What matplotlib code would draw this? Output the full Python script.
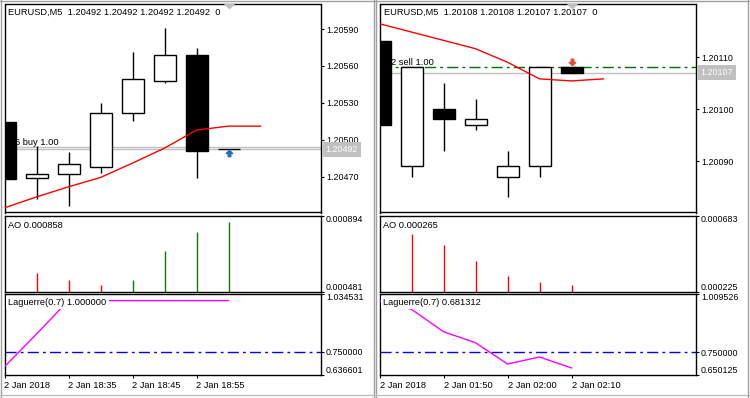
import matplotlib
matplotlib.use("Agg")
import matplotlib.pyplot as plt
from matplotlib.patches import Rectangle
from matplotlib.lines import Line2D
from matplotlib.path import Path
import matplotlib.transforms as mtransforms
import numpy as np

# ---------------- data ----------------
left_title = "EURUSD,M5  1.20492 1.20492 1.20492 1.20492  0"
left_open = [1.20514, 1.20469, 1.20472, 1.20478, 1.20522, 1.20548, 1.20569, 1.20492]
left_high = [1.20514, 1.20495, 1.20490, 1.20530, 1.20571, 1.20591, 1.20575, 1.20492]
left_low = [1.20468, 1.20452, 1.20446, 1.20473, 1.20515, 1.20546, 1.20469, 1.20492]
left_close = [1.20468, 1.20472, 1.20480, 1.20522, 1.20549, 1.20569, 1.20491, 1.20492]
left_ma = [1.204445, 1.204534, 1.204616, 1.204692, 1.204809, 1.204931, 1.205078, 1.205110, 1.205110]
left_ao = [0.000584, 0.000544, 0.000517, 0.000544, 0.000703, 0.000804, 0.000858]
left_ao_rising = [False, False, False, True, True, True, True]
left_lag = [0.6771, 0.8368, 1.0, 1.0, 1.0, 1.0, 1.0, 1.0]
left_bid = 1.20492
left_order_price = 1.20494
left_order_text = "6 buy 1.00"
left_price_ticks = [1.20470, 1.20500, 1.20530, 1.20560, 1.20590]
left_price_range = (1.204407, 1.206100)
left_ao_range = (0.000481, 0.000894)
left_lag_range = (0.636601, 1.034531)
left_ao_label = "AO 0.000858"
left_lag_label = "Laguerre(0.7) 1.000000"
left_dates = ["2 Jan 2018", "2 Jan 18:35", "2 Jan 18:45", "2 Jan 18:55"]

right_title = "EURUSD,M5  1.20108 1.20108 1.20107 1.20107  0"
right_open = [1.20113, 1.20089, 1.20100, 1.20097, 1.20087, 1.20089, 1.20108]
right_high = [1.20113, 1.20108, 1.20105, 1.20102, 1.20092, 1.20108, 1.20108]
right_low = [1.20097, 1.20087, 1.20092, 1.20096, 1.20083, 1.20087, 1.20107]
right_close = [1.20097, 1.20108, 1.20098, 1.20098, 1.20089, 1.20108, 1.20107]
right_ma = [1.201164, 1.201148, 1.201132, 1.201116, 1.201090, 1.201058, 1.201054, 1.201058]
right_ao = [0.000571, 0.000505, 0.000409, 0.000319, 0.000283, 0.000265]
right_ao_rising = [False, False, False, False, False, False]
right_lag = [0.97778, 0.93985, 0.84107, 0.79256, 0.69864, 0.72950, 0.681312]
right_bid = 1.20107
right_order_price = 1.20108
right_order_text = "2 sell 1.00"
right_price_ticks = [1.20090, 1.20100, 1.20110]
right_price_range = (1.200801, 1.201201)
right_ao_range = (0.000225, 0.000683)
right_lag_range = (0.650125, 1.009526)
right_ao_label = "AO 0.000265"
right_lag_label = "Laguerre(0.7) 0.681312"
right_dates = ["2 Jan 2018", "2 Jan 01:50", "2 Jan 02:00", "2 Jan 02:10"]

lag_level = 0.75

# ---------------- style ----------------
W, H = 750, 398
FS = 6.4
plt.rcParams['font.family'] = ['Liberation Sans', 'DejaVu Sans']
BW = 22 / 32.0
NVIS = 316 / 32.0

fig = plt.figure(figsize=(W / 100, H / 100), dpi=100)
fig.patch.set_facecolor('white')


def px_axes(x0, y0, x1, y1):
    ax = fig.add_axes([x0 / W, 1 - y1 / H, (x1 - x0) / W, (y1 - y0) / H])
    ax.set_facecolor('white')
    for s in ax.spines.values():
        s.set_color('black')
        s.set_linewidth(1)
    ax.set_xlim(0, NVIS)
    ax.yaxis.tick_right()
    ax.tick_params(axis='y', length=2.5, width=0.8, pad=1.5, labelsize=FS, colors='black')
    ax.tick_params(axis='x', bottom=False, labelbottom=False)
    return ax


def fig_line(x0, y0, x1, y1, color, lw=1.0):
    fig.add_artist(Line2D([x0 / W, x1 / W], [1 - y0 / H, 1 - y1 / H],
                          transform=fig.transFigure, color=color, lw=lw))


up_arrow = Path([(0, 1), (-1, 0), (-0.4, 0), (-0.4, -1), (0.4, -1), (0.4, 0), (1, 0), (0, 1)],
                [1, 2, 2, 2, 2, 2, 2, 79])
down_arrow = Path([(0, -1), (-1, 0), (-0.4, 0), (-0.4, 1), (0.4, 1), (0.4, 0), (1, 0), (0, -1)],
                  [1, 2, 2, 2, 2, 2, 2, 79])
shift_tri = Path([(-1, 0.45), (1, 0.45), (0, -0.45), (-1, 0.45)], [1, 2, 2, 79])


def build(x0, o, h, l, c, ma, ao, ao_up, lag, bid, order_price, order_text, is_buy,
          price_ticks, prange, aorange, lagrange, title, ao_label, lag_label, dates):
    x1 = x0 + 316
    # ---- main price pane
    ax = px_axes(x0, 4.5, x1, 212.5)
    ax.set_ylim(*prange)
    ax.set_yticks(price_ticks)
    ax.set_yticklabels([f"{t:.5f}" for t in price_ticks])
    n = len(o)
    if is_buy:
        ax.axhline(order_price, color='#c0c0c0', lw=1, zorder=1)
    else:
        ax.axhline(order_price, color='#007000', lw=1, ls=(0, (8, 3, 2, 3)), zorder=1)
    ax.axhline(bid, color='#c0c0c0', lw=1, zorder=1)
    ax.text(0.33 if is_buy else 0.35, order_price, order_text, fontsize=FS + 0.3,
            va='bottom', ha='left', zorder=2)
    for i in range(n):
        ax.vlines(i, l[i], h[i], color='black', lw=1, zorder=3)
        bottom = min(o[i], c[i])
        height = abs(c[i] - o[i])
        face = 'white' if c[i] > o[i] else 'black'
        ax.add_patch(Rectangle((i - BW / 2, bottom), BW, height, facecolor=face,
                               edgecolor='black', lw=1, zorder=4))
    ax.plot(np.arange(len(ma)), ma, color='#ff0000', lw=1, zorder=5)
    last = n - 1
    if is_buy:
        tr = mtransforms.offset_copy(ax.transData, fig=fig, x=0, y=-3.5, units='dots')
        ax.plot([last], [l[last]], marker=up_arrow, ms=4.6, color='#1e6fb3', mec='#1e6fb3',
                transform=tr, zorder=6, ls='none')
    else:
        tr = mtransforms.offset_copy(ax.transData, fig=fig, x=0, y=5.5, units='dots')
        ax.plot([last], [h[last]], marker=down_arrow, ms=4.6, color='#e84a2a', mec='#e84a2a',
                transform=tr, zorder=6, ls='none')
    btr = mtransforms.blended_transform_factory(ax.transData, ax.transAxes)
    btr = mtransforms.offset_copy(btr, fig=fig, x=0, y=-2, units='dots')
    ax.plot([last], [1], marker=shift_tri, ms=6.5, color='#c0c0c0', mec='#c0c0c0',
            transform=btr, clip_on=False, zorder=7, ls='none')
    ax.text(0.012 if is_buy else 0.013, 0.962, title, transform=ax.transAxes,
            fontsize=FS + 0.3, va='center', ha='left')
    ax.annotate(f"{bid:.5f}", xy=(1, bid), xycoords=('axes fraction', 'data'),
                xytext=(5, 0), textcoords='offset pixels', fontsize=FS, color='white',
                va='center', ha='left', annotation_clip=False,
                bbox=dict(boxstyle='square,pad=0.3', fc='#c0c0c0', ec='none'))

    # ---- AO pane
    ax2 = px_axes(x0, 215.5, x1, 291.5)
    ax2.set_ylim(*aorange)
    ax2.set_yticks(list(aorange))
    ax2.set_yticklabels([f"{aorange[0]:.6f}", f"{aorange[1]:.6f}"])
    labs = ax2.get_yticklabels()
    labs[0].set_va('bottom')
    labs[1].set_va('top')
    aidx = np.arange(1, len(ao) + 1)
    cols = ['#008000' if u else '#ff0000' for u in ao_up]
    ax2.vlines(aidx, 0, ao, colors=cols, lw=1)
    ax2.text(0.012, 0.87, ao_label, transform=ax2.transAxes, fontsize=FS + 0.3,
             va='center', ha='left')

    # ---- Laguerre pane
    ax3 = px_axes(x0, 293.5, x1, 375)
    ax3.set_ylim(*lagrange)
    ax3.set_yticks([lagrange[0], lag_level, lagrange[1]])
    ax3.set_yticklabels([f"{lagrange[0]:.6f}", f"{lag_level:.6f}", f"{lagrange[1]:.6f}"])
    labs = ax3.get_yticklabels()
    labs[0].set_va('bottom')
    labs[2].set_va('top')
    ax3.axhline(lag_level, color='#0000ff', lw=1, ls=(0, (8, 3, 2, 3)))
    ax3.plot(np.arange(len(lag)), lag, color='#ff00ff', lw=1, zorder=3)
    ax3.text(0.012, 0.89, lag_label, transform=ax3.transAxes, fontsize=FS + 0.3,
             va='center', ha='left', zorder=5,
             bbox=dict(boxstyle='square,pad=0.25', fc='white', ec='none'))
    ax3.set_xticks([0, 2, 4, 6])
    ax3.set_xticklabels(dates)
    ax3.tick_params(axis='x', bottom=True, labelbottom=True, length=2.5, width=0.8,
                    pad=1.5, labelsize=FS + 0.3)
    for t in ax3.get_xticklabels():
        t.set_ha('left')


build(4.5, left_open, left_high, left_low, left_close, left_ma, left_ao, left_ao_rising,
      left_lag, left_bid, left_order_price, left_order_text, True, left_price_ticks,
      left_price_range, left_ao_range, left_lag_range, left_title, left_ao_label,
      left_lag_label, left_dates)
build(379.5, right_open, right_high, right_low, right_close, right_ma, right_ao,
      right_ao_rising, right_lag, right_bid, right_order_price, right_order_text, False,
      right_price_ticks, right_price_range, right_ao_range, right_lag_range, right_title,
      right_ao_label, right_lag_label, right_dates)

# window borders
fig_line(0, 0.5, 750, 0.5, '#a0a0a0')
fig_line(1, 0, 1, 398, '#a0a0a0')
fig_line(373.5, 0, 373.5, 398, '#a0a0a0')
fig_line(376, 0, 376, 398, '#a0a0a0')
fig_line(0, 394.5, 750, 394.5, '#c0c0c0')
fig_line(748, 0, 748, 398, '#a0a0a0')

fig.savefig("out.png", dpi=100, facecolor='white')
